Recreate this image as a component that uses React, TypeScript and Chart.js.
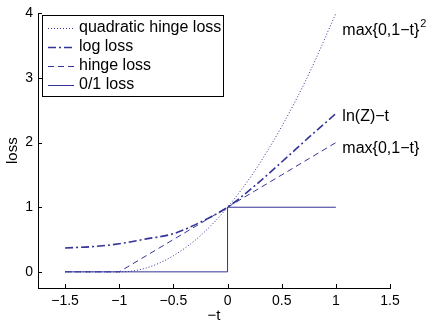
import React, { useEffect, useRef } from "react";
import { Chart, registerables } from "chart.js";
Chart.register(...registerables);

// ---- data ----
const X_VALUES = [-1.5, -1.25, -1, -0.75, -0.5, -0.25, 0, 0.25, 0.5, 0.75, 1];
const QUAD_HINGE = [0, 0, 0, 0.06, 0.25, 0.56, 1, 1.56, 2.25, 3.06, 4];
const LOG_LOSS = [0.37, 0.39, 0.435, 0.51, 0.59, 0.77, 1.0, 1.33, 1.7, 2.08, 2.45];
const HINGE = [0, 0, 0, 0.25, 0.5, 0.75, 1, 1.25, 1.5, 1.75, 2];
const ZERO_ONE_X = [-1.5, 0, 0, 1];
const ZERO_ONE_Y = [0, 0, 1, 1];

const SERIES_LABELS = ["quadratic hinge loss", "log loss", "hinge loss", "0/1 loss"];
const X_TICKS = [-1.5, -1, -0.5, 0, 0.5, 1, 1.5];
const Y_TICKS = [0, 1, 2, 3, 4];

const CURVE_LABELS = ["max{0,1\u2212t}", "ln(Z)\u2212t", "max{0,1\u2212t}"];
const CURVE_LABEL_SUP = ["2", "", ""];
const CURVE_LABEL_X = [1.06, 1.06, 1.06];
const CURVE_LABEL_Y = [3.73, 2.4, 1.91];

const FONT = "'Liberation Sans', Arial, Helvetica, sans-serif";
const LINE_COLOR = "#333399";
const DASHES: number[][] = [[1, 2], [8, 3, 2, 3], [6, 4], []];
const WIDTHS = [1, 1.6, 1, 1];

const fmt = (v: number) => (v < 0 ? "\u2212" + String(-v) : String(v));
const pts = (xs: number[], ys: number[]) => xs.map((x, i) => ({ x, y: ys[i] }));

const overlayPlugin = {
  id: "overlay",
  afterDraw(chart: any) {
    const ctx = chart.ctx as CanvasRenderingContext2D;
    const xs = chart.scales.x;
    const ys = chart.scales.y;
    const area = chart.chartArea;
    ctx.save();
    // inward ticks
    ctx.strokeStyle = "#000";
    ctx.lineWidth = 1;
    ctx.beginPath();
    X_TICKS.forEach((v) => {
      const px = Math.round(xs.getPixelForValue(v)) + 0.5;
      ctx.moveTo(px, area.bottom);
      ctx.lineTo(px, area.bottom - 4);
    });
    Y_TICKS.forEach((v) => {
      const py = Math.round(ys.getPixelForValue(v)) + 0.5;
      ctx.moveTo(area.left, py);
      ctx.lineTo(area.left + 4, py);
    });
    ctx.stroke();

    // curve annotations
    ctx.fillStyle = "#000";
    ctx.textBaseline = "middle";
    ctx.textAlign = "left";
    CURVE_LABELS.forEach((t, i) => {
      const px = xs.getPixelForValue(CURVE_LABEL_X[i]);
      const py = ys.getPixelForValue(CURVE_LABEL_Y[i]);
      ctx.font = `16px ${FONT}`;
      ctx.fillText(t, px, py);
      if (CURVE_LABEL_SUP[i]) {
        const w = ctx.measureText(t).width;
        ctx.font = `11px ${FONT}`;
        ctx.fillText(CURVE_LABEL_SUP[i], px + w + 1, py - 7);
      }
    });

    // legend box
    const bx = 42.5, by = 15.5, bw = 181, bh = 81;
    ctx.fillStyle = "#fff";
    ctx.fillRect(bx, by, bw, bh);
    ctx.strokeStyle = "#000";
    ctx.lineWidth = 1;
    ctx.setLineDash([]);
    ctx.strokeRect(bx, by, bw, bh);
    const rowY = [28, 46.5, 66, 85];
    SERIES_LABELS.forEach((lab, i) => {
      const y = Math.round(rowY[i]) + 0.5;
      ctx.strokeStyle = LINE_COLOR;
      ctx.lineWidth = WIDTHS[i];
      ctx.setLineDash(DASHES[i]);
      ctx.beginPath();
      ctx.moveTo(48, y);
      ctx.lineTo(74, y);
      ctx.stroke();
      ctx.setLineDash([]);
      ctx.fillStyle = "#000";
      ctx.font = `16px ${FONT}`;
      ctx.textBaseline = "middle";
      ctx.fillText(lab, 79, rowY[i]);
    });
    ctx.restore();
  },
};

export default function App() {
  const ref = useRef<HTMLCanvasElement>(null);
  useEffect(() => {
    const canvas = ref.current!;
    const common = {
      borderColor: LINE_COLOR,
      backgroundColor: LINE_COLOR,
      pointRadius: 0,
      fill: false,
      showLine: true,
    };
    const chart = new Chart(canvas, {
      type: "scatter",
      data: {
        datasets: [
          {
            ...common,
            label: SERIES_LABELS[0],
            data: pts(X_VALUES, QUAD_HINGE),
            borderWidth: WIDTHS[0],
            borderDash: DASHES[0],
            cubicInterpolationMode: "monotone",
          },
          {
            ...common,
            label: SERIES_LABELS[1],
            data: pts(X_VALUES, LOG_LOSS),
            borderWidth: WIDTHS[1],
            borderDash: DASHES[1],
            cubicInterpolationMode: "monotone",
          },
          {
            ...common,
            label: SERIES_LABELS[2],
            data: pts(X_VALUES, HINGE),
            borderWidth: WIDTHS[2],
            borderDash: DASHES[2],
          },
          {
            ...common,
            label: SERIES_LABELS[3],
            data: pts(ZERO_ONE_X, ZERO_ONE_Y),
            borderWidth: WIDTHS[3],
            borderDash: DASHES[3],
          },
        ] as any,
      },
      options: {
        animation: false,
        responsive: true,
        maintainAspectRatio: false,
        layout: { padding: { left: 0, right: 37, top: 12, bottom: 0 } },
        plugins: { legend: { display: false }, tooltip: { enabled: false } },
        scales: {
          x: {
            type: "linear",
            min: -1.75,
            max: 1.5,
            afterBuildTicks: (s: any) => {
              s.ticks = X_TICKS.map((v) => ({ value: v }));
            },
            afterFit: (s: any) => {
              s.height = 35;
            },
            grid: { display: true, drawOnChartArea: false, drawTicks: false },
            border: { display: true, color: "#000", width: 1 },
            ticks: {
              color: "#000",
              padding: 5,
              font: { family: FONT, size: 14 },
              callback: (v: any) => fmt(Number(v)),
              maxRotation: 0,
              autoSkip: false,
            },
            title: {
              display: true,
              text: "\u2212t",
              color: "#000",
              font: { family: FONT, size: 15 },
              padding: { top: 0, bottom: -2 },
            },
          },
          y: {
            type: "linear",
            min: -0.25,
            max: 4,
            afterBuildTicks: (s: any) => {
              s.ticks = Y_TICKS.map((v) => ({ value: v }));
            },
            afterFit: (s: any) => {
              s.width = 38;
            },
            grid: { display: true, drawOnChartArea: false, drawTicks: false },
            border: { display: true, color: "#000", width: 1 },
            ticks: {
              color: "#000",
              padding: 5,
              font: { family: FONT, size: 14 },
              callback: (v: any) => fmt(Number(v)),
            },
            title: {
              display: true,
              text: "loss",
              color: "#000",
              font: { family: FONT, size: 15 },
              padding: { top: 4, bottom: 0 },
            },
          },
        },
      } as any,
      plugins: [overlayPlugin],
    });
    return () => chart.destroy();
  }, []);
  return (
    <div style={{ position: "absolute", left: 0, top: 0, width: 427, height: 323 }}>
      <canvas ref={ref} />
    </div>
  );
}
